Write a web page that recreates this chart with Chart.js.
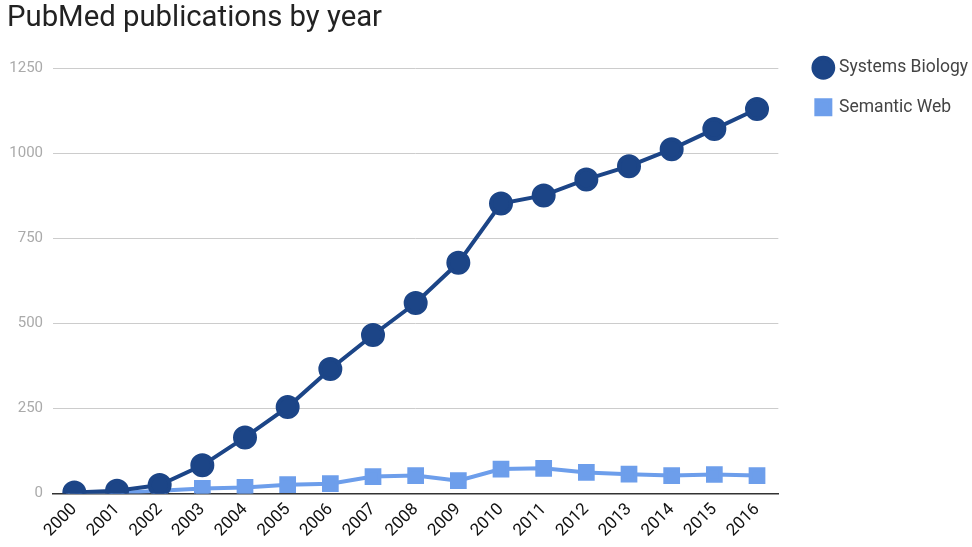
<!DOCTYPE html>
<html>
<head>
<meta charset="utf-8">
<script src="https://cdn.jsdelivr.net/npm/chart.js@4/dist/chart.umd.min.js"></script>
<style>
  html, body { margin: 0; padding: 0; background: #fff; }
</style>
</head>
<body>
<canvas id="myChart" width="972" height="547"></canvas>
<script>
const years = ['2000', '2001', '2002', '2003', '2004', '2005', '2006', '2007', '2008',
  '2009', '2010', '2011', '2012', '2013', '2014', '2015', '2016'];
const systemsBiology = [3, 8, 25, 83, 165, 254, 366, 466, 560, 678, 852, 876, 923, 962, 1012, 1071, 1130];
const semanticWeb = [0, 1, 8, 15, 18, 26, 29, 50, 53, 38, 72, 74, 62, 57, 53, 56, 53];

const ctx = document.getElementById('myChart').getContext('2d');

// push the legend a bit to the right, away from the plot
const legendShift = {
  id: 'legendShift',
  afterLayout(chart) {
    chart.legend.left += 16;
    chart.legend.right += 16;
  }
};

new Chart(ctx, {
  type: 'line',
  data: {
    labels: years,
    datasets: [{
      label: 'Systems Biology',
      data: systemsBiology,
      borderColor: '#1c4587',
      backgroundColor: '#1c4587',
      borderWidth: 4,
      pointStyle: 'circle',
      pointRadius: 10,
      pointHoverRadius: 10,
      tension: 0
    }, {
      label: 'Semantic Web',
      data: semanticWeb,
      borderColor: '#6d9eeb',
      backgroundColor: '#6d9eeb',
      borderWidth: 4,
      pointStyle: 'rect',
      pointRadius: 9,
      pointHoverRadius: 9,
      tension: 0
    }]
  },
  options: {
    responsive: false,
    animation: false,
    layout: {
      padding: { left: 7, right: 10, top: 0, bottom: 0 }
    },
    plugins: {
      title: {
        display: true,
        text: 'PubMed publications by year',
        align: 'start',
        color: '#222',
        font: { family: 'Roboto', size: 29.3, weight: 'normal' },
        padding: { top: 1, bottom: 32 }
      },
      legend: {
        position: 'right',
        align: 'start',
        title: {
          display: true,
          text: '',
          font: { size: 10 },
          padding: { top: 25, bottom: 0 }
        },
        labels: {
          usePointStyle: true,
          boxWidth: 14,
          boxHeight: 14,
          color: '#444',
          padding: 22,
          font: { family: 'Roboto', size: 17.5 }
        }
      },
      tooltip: { enabled: false }
    },
    scales: {
      x: {
        offset: true,
        grid: { display: false, drawTicks: false },
        border: { color: '#333', width: 1.5 },
        ticks: {
          color: '#111',
          maxRotation: 45,
          minRotation: 45,
          padding: 6,
          font: { family: 'Roboto', size: 17 }
        },
        afterFit: (scale) => { scale.paddingLeft = 0; }
      },
      y: {
        min: 0,
        max: 1250,
        ticks: {
          stepSize: 250,
          color: '#aaa',
          padding: 10,
          font: { family: 'Roboto', size: 15 },
          callback: (value) => String(value)
        },
        grid: { color: '#ccc', drawTicks: false },
        border: { display: false },
        afterFit: (scale) => { scale.width = 46; }
      }
    }
  },
  plugins: [legendShift]
});
</script>
</body>
</html>
